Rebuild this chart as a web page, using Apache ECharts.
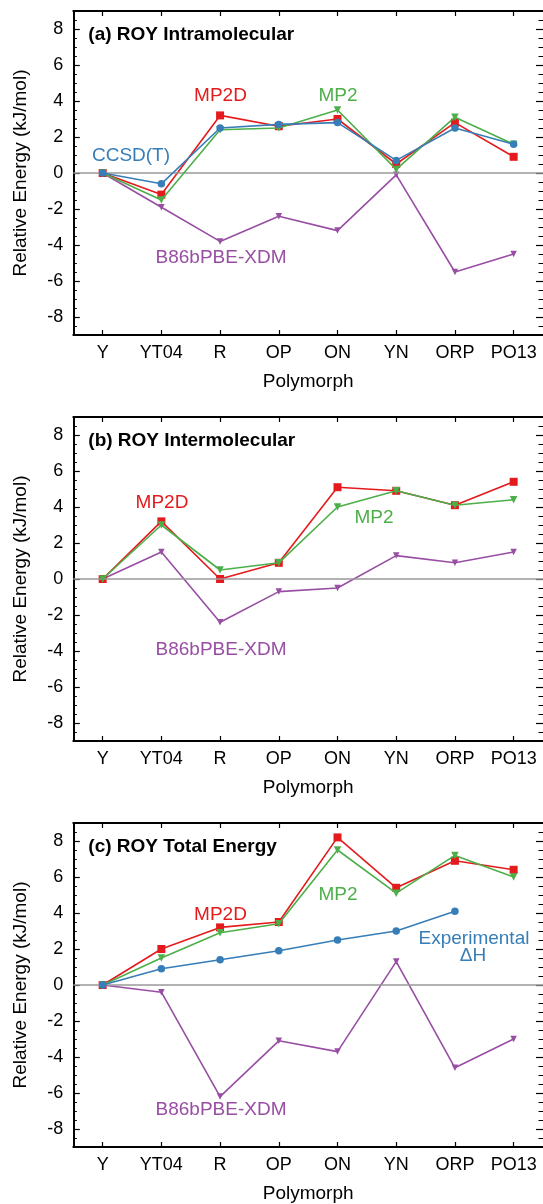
<!DOCTYPE html>
<html>
<head>
<meta charset="utf-8">
<title>ROY polymorph relative energies</title>
<script src="https://cdn.jsdelivr.net/npm/echarts@6/dist/echarts.min.js"></script>
<style>
  html, body { margin: 0; padding: 0; background: #fff; }
  #chart { width: 543px; height: 1204px; }
</style>
</head>
<body>
<div id="chart"></div>
<script>
// Polymorph order along the x axis
const categories = ['Y', 'YT04', 'R', 'OP', 'ON', 'YN', 'ORP', 'PO13'];
// Labelled y ticks (kJ/mol)
const yTickValues = [-8, -6, -4, -2, 0, 2, 4, 6, 8];

// (a) intramolecular energies
const intraCCSDT = [0, -0.6, 2.5, 2.7, 2.8, 0.7, 2.5, 1.6];
const intraMP2D  = [0, -1.2, 3.2, 2.6, 3.0, 0.5, 2.8, 0.9];
const intraMP2   = [0, -1.5, 2.4, 2.5, 3.5, 0.2, 3.1, 1.6];
const intraXDM   = [0, -1.9, -3.8, -2.4, -3.2, -0.1, -5.5, -4.5];

// (b) intermolecular energies
const interMP2D  = [0, 3.2, 0.0, 0.9, 5.1, 4.9, 4.1, 5.4];
const interMP2   = [0, 3.0, 0.5, 0.9, 4.0, 4.9, 4.1, 4.4];
const interXDM   = [0, 1.5, -2.4, -0.7, -0.5, 1.3, 0.9, 1.5];

// (c) total energies and experimental enthalpy differences
const totalMP2D  = [0, 2.0, 3.2, 3.5, 8.2, 5.4, 6.9, 6.4];
const totalMP2   = [0, 1.5, 2.9, 3.4, 7.5, 5.1, 7.2, 6.0];
const totalExpDH = [0, 0.9, 1.4, 1.9, 2.5, 3.0, 4.1, null];
const totalXDM   = [0, -0.4, -6.2, -3.1, -3.7, 1.3, -4.6, -3.0];

const FONT = "'Liberation Sans', Arial, Helvetica, sans-serif";
const RED = '#e41a1c', BLUE = '#377eb8', GREEN = '#4daf4a', PURPLE = '#984ea3';

const GRID_LEFT = 73.3, GRID_WIDTH = 471, GRID_HEIGHT = 324;
const gridTops = [11, 417, 823];

const panels = [
  {
    title: '(a) ROY Intramolecular',
    series: [
      { name: 'B86bPBE-XDM', data: intraXDM, color: PURPLE, symbol: 'triangle', size: 6.5 },
      { name: 'MP2D', data: intraMP2D, color: RED, symbol: 'rect', size: 8 },
      { name: 'MP2', data: intraMP2, color: GREEN, symbol: 'triangle', size: 7.5 },
      { name: 'CCSD(T)', data: intraCCSDT, color: BLUE, symbol: 'circle', size: 7.5 }
    ],
    notes: [
      { text: 'MP2D', color: RED, x: 220.5, y: 96 },
      { text: 'MP2', color: GREEN, x: 338, y: 96 },
      { text: 'CCSD(T)', color: BLUE, x: 131, y: 156 },
      { text: 'B86bPBE-XDM', color: PURPLE, x: 221, y: 257.5 }
    ]
  },
  {
    title: '(b) ROY Intermolecular',
    series: [
      { name: 'B86bPBE-XDM', data: interXDM, color: PURPLE, symbol: 'triangle', size: 6.5 },
      { name: 'MP2D', data: interMP2D, color: RED, symbol: 'rect', size: 8 },
      { name: 'MP2', data: interMP2, color: GREEN, symbol: 'triangle', size: 7.5 }
    ],
    notes: [
      { text: 'MP2D', color: RED, x: 162, y: 503 },
      { text: 'MP2', color: GREEN, x: 374, y: 518 },
      { text: 'B86bPBE-XDM', color: PURPLE, x: 221, y: 650 }
    ]
  },
  {
    title: '(c) ROY Total Energy',
    series: [
      { name: 'B86bPBE-XDM', data: totalXDM, color: PURPLE, symbol: 'triangle', size: 6.5 },
      { name: 'MP2D', data: totalMP2D, color: RED, symbol: 'rect', size: 8 },
      { name: 'MP2', data: totalMP2, color: GREEN, symbol: 'triangle', size: 7.5 },
      { name: 'Experimental ΔH', data: totalExpDH, color: BLUE, symbol: 'circle', size: 7.5 }
    ],
    notes: [
      { text: 'MP2D', color: RED, x: 220.5, y: 914.5 },
      { text: 'MP2', color: GREEN, x: 338, y: 895 },
      { text: 'Experimental', color: BLUE, x: 474, y: 939 },
      { text: 'ΔH', color: BLUE, x: 473, y: 955.5 },
      { text: 'B86bPBE-XDM', color: PURPLE, x: 221, y: 1110 }
    ]
  }
];

const grid = [], xAxis = [], yAxis = [], series = [], graphic = [];
const black = { color: '#000', width: 2 };

panels.forEach((p, i) => {
  grid.push({ left: GRID_LEFT, top: gridTops[i], width: GRID_WIDTH, height: GRID_HEIGHT, containLabel: false });

  // bottom category axis with labels
  xAxis.push({
    gridIndex: i, type: 'category', data: categories, boundaryGap: true, position: 'bottom',
    axisLine: { show: true, onZero: false, lineStyle: black },
    axisTick: { show: true, inside: true, alignWithLabel: true, length: 5, lineStyle: { color: '#000', width: 1.2 } },
    axisLabel: { show: true, color: '#000', fontSize: 18, fontFamily: FONT, margin: 9, interval: 0 },
    splitLine: { show: false },
    name: 'Polymorph', nameLocation: 'middle', nameGap: 37,
    nameTextStyle: { color: '#000', fontSize: 19, fontFamily: FONT }
  });
  // mirrored top border ticks
  xAxis.push({
    gridIndex: i, type: 'category', data: categories, boundaryGap: true, position: 'top',
    axisLine: { show: true, onZero: false, lineStyle: black },
    axisTick: { show: true, inside: true, alignWithLabel: true, length: 5, lineStyle: { color: '#000', width: 1.2 } },
    axisLabel: { show: false }, splitLine: { show: false }
  });

  const base = { gridIndex: i, type: 'value', min: -9, max: 9, splitLine: { show: false } };
  // left axis: labelled major ticks
  yAxis.push(Object.assign({}, base, {
    position: 'left',
    axisLine: { show: true, onZero: false, lineStyle: black },
    axisTick: { show: true, inside: true, length: 6.5, customValues: yTickValues, lineStyle: { color: '#000', width: 1.2 } },
    axisLabel: { show: true, customValues: yTickValues, color: '#000', fontSize: 18, fontFamily: FONT, margin: 10 },
    name: 'Relative Energy (kJ/mol)', nameLocation: 'middle', nameGap: 43, nameRotate: 90,
    nameTextStyle: { color: '#000', fontSize: 19, fontFamily: FONT }
  }));
  // left axis: minor ticks every 0.5
  yAxis.push(Object.assign({}, base, {
    position: 'left', interval: 0.5,
    axisLine: { show: false },
    axisTick: { show: true, inside: true, length: 3.5, lineStyle: { color: '#000', width: 1 } },
    axisLabel: { show: false }
  }));
  // right edge: major ticks (the border itself falls at the canvas edge)
  yAxis.push(Object.assign({}, base, {
    position: 'right',
    axisLine: { show: false },
    axisTick: { show: true, inside: true, length: 7, customValues: yTickValues, lineStyle: { color: '#000', width: 1.2 } },
    axisLabel: { show: false }
  }));
  // right edge: minor ticks
  yAxis.push(Object.assign({}, base, {
    position: 'right', interval: 0.5,
    axisLine: { show: false },
    axisTick: { show: true, inside: true, length: 4.5, lineStyle: { color: '#000', width: 1 } },
    axisLabel: { show: false }
  }));

  p.series.forEach((s, k) => {
    const item = {
      type: 'line', name: s.name, data: s.data,
      xAxisIndex: i * 2, yAxisIndex: i * 4,
      symbol: s.symbol, symbolSize: s.size, symbolRotate: s.symbol === 'triangle' ? 180 : 0,
      showAllSymbol: true, connectNulls: false,
      lineStyle: { color: s.color, width: 1.6 },
      itemStyle: { color: s.color, borderWidth: 0 },
      emphasis: { disabled: true },
      animation: false, z: 3 + k
    };
    if (k === 0) {
      // zero reference line
      item.markLine = {
        silent: true, symbol: 'none', animation: false,
        label: { show: false },
        lineStyle: { color: '#999', width: 1.6, type: 'solid' },
        data: [{ yAxis: 0 }]
      };
    }
    series.push(item);
  });

  graphic.push({
    type: 'text', left: 88.3, top: gridTops[i] + 14, z: 10,
    style: { text: p.title, fill: '#000', font: 'bold 19px ' + FONT }
  });
  p.notes.forEach(n => {
    graphic.push({
      type: 'text', x: n.x, y: n.y, z: 10,
      style: { text: n.text, fill: n.color, font: '19px ' + FONT, align: 'center', verticalAlign: 'middle' }
    });
  });
});

const chart = echarts.init(document.getElementById('chart'), null, { renderer: 'canvas' });
chart.setOption({
  animation: false,
  backgroundColor: '#fff',
  textStyle: { fontFamily: FONT },
  grid, xAxis, yAxis, series, graphic
});
</script>
</body>
</html>
